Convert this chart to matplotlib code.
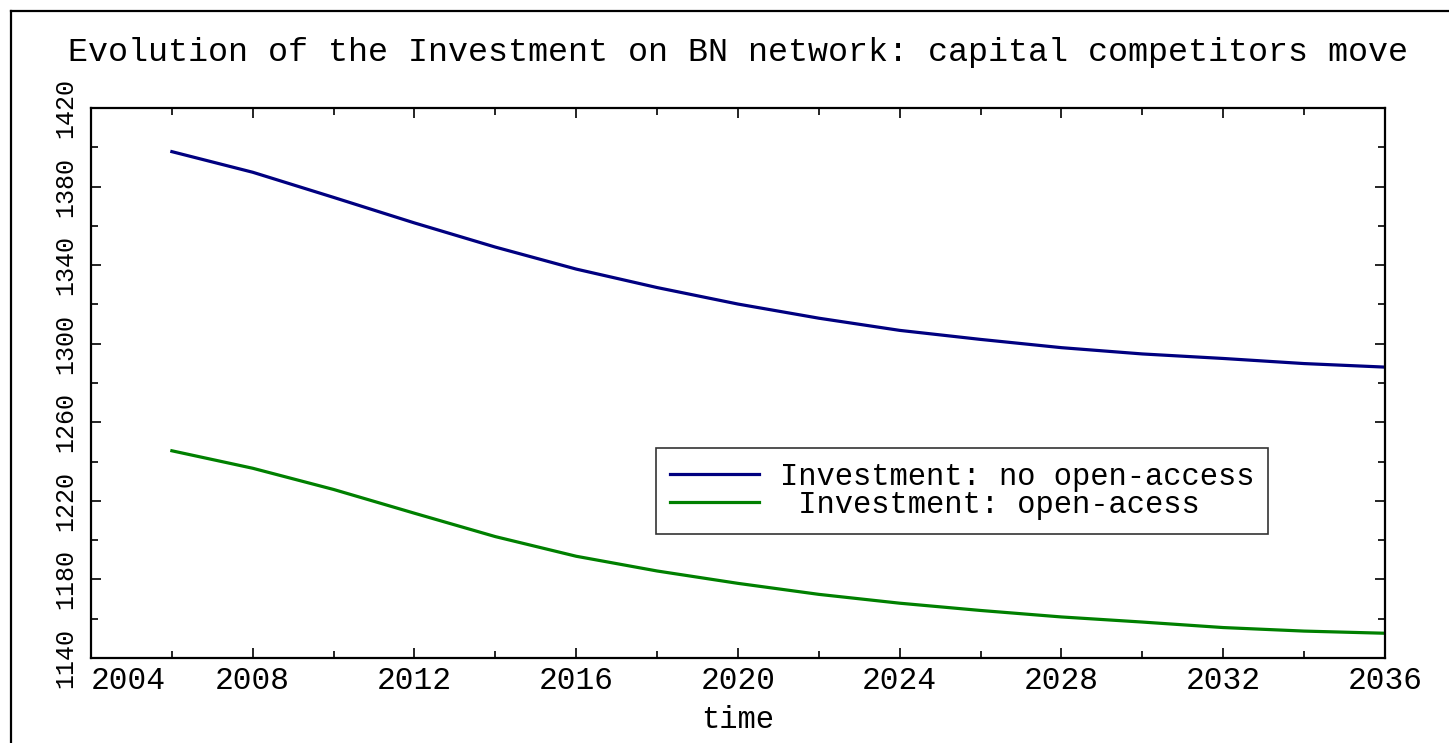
import numpy as np
import matplotlib
matplotlib.use("Agg")
import matplotlib.pyplot as plt
from matplotlib.lines import Line2D
from matplotlib.ticker import MultipleLocator

# Values
years = [2006, 2008, 2010, 2012, 2014, 2016, 2018, 2020, 2022, 2024,
         2026, 2028, 2030, 2032, 2034, 2036]
no_open_access = [1397.8, 1387.3, 1374.5, 1361.5, 1349.2, 1338.0, 1328.6, 1320.2,
                  1313.0, 1306.8, 1302.2, 1298.0, 1294.8, 1292.5, 1289.9, 1288.1]
open_access = [1245.5, 1236.6, 1225.8, 1213.7, 1201.8, 1191.8, 1184.3, 1178.0,
               1172.4, 1167.9, 1164.2, 1160.9, 1158.3, 1155.5, 1153.7, 1152.6]
labels = ["Investment: no open-access", " Investment: open-acess"]
x_ticks = [2004, 2008, 2012, 2016, 2020, 2024, 2028, 2032, 2036]
y_ticks = [1140, 1180, 1220, 1260, 1300, 1340, 1380, 1420]

plt.rcParams['font.family'] = ['Liberation Mono', 'DejaVu Sans Mono']

fig = plt.figure(figsize=(14.49, 7.43), dpi=100)
ax = fig.add_axes([0.0628, 0.1144, 0.893, 0.7402])

ax.plot(years, no_open_access, color="#000080", lw=2.3, label=labels[0])
ax.plot(years, open_access, color="#008000", lw=2.3, label=labels[1])

ax.set_xlim(2004, 2036)
ax.set_ylim(1140, 1420)
ax.set_xticks(x_ticks)
ax.set_yticks(y_ticks)
ax.xaxis.set_minor_locator(MultipleLocator(2))
ax.yaxis.set_minor_locator(MultipleLocator(20))
ax.tick_params(which="both", direction="in", top=True, right=True, width=1.2)
ax.tick_params(which="major", length=7.5)
ax.tick_params(which="minor", length=5)
ax.tick_params(axis="x", labelsize=22.5, pad=6)
ax.tick_params(axis="y", labelsize=18, pad=10)
for lab in ax.get_yticklabels():
    lab.set_rotation(90)
    lab.set_va("center")
ax.get_xticklabels()[0].set_ha("left")

for sp in ax.spines.values():
    sp.set_linewidth(1.6)

ax.set_xlabel("time", fontsize=22, labelpad=6)
ax.set_title("Evolution of the Investment on BN network: capital competitors move",
             fontsize=24, pad=34)

leg = ax.legend(loc="upper left", bbox_to_anchor=(0.437, 0.382), borderaxespad=0,
                fontsize=22, frameon=True, fancybox=False, edgecolor="black",
                handlelength=2.9, handletextpad=0.7, borderpad=0.45,
                labelspacing=-0.05)
leg.get_frame().set_linewidth(1.2)

# outer frame around the figure
fig.add_artist(Line2D([11 / 1449, 11 / 1449], [0, 1 - 11 / 743],
                      transform=fig.transFigure, color="black", lw=1.6))
fig.add_artist(Line2D([11 / 1449, 1.0], [1 - 11 / 743, 1 - 11 / 743],
                      transform=fig.transFigure, color="black", lw=1.6))

fig.savefig("out.png", dpi=100)
